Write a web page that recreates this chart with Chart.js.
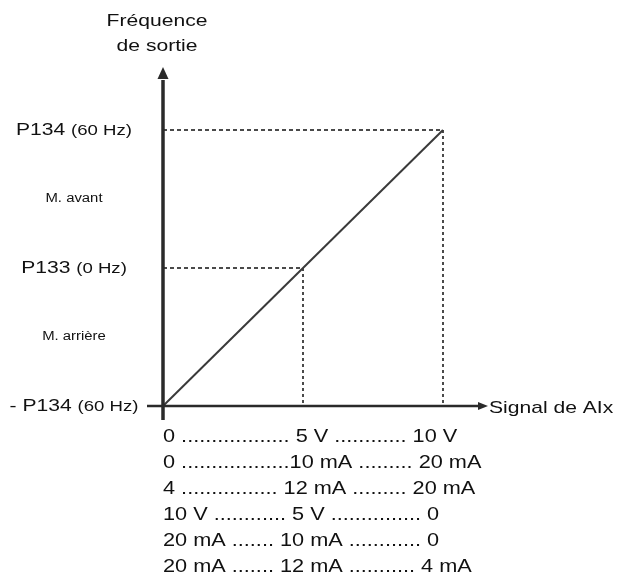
<!DOCTYPE html>
<html>
<head>
<meta charset="utf-8">
<script src="https://cdn.jsdelivr.net/npm/chart.js@4.4.1/dist/chart.umd.min.js"></script>
<style>
  html, body { margin: 0; padding: 0; background: #fff; }
  #wrap { width: 619px; height: 580px; }
</style>
</head>
<body>
<div id="wrap"><canvas id="myChart" width="619" height="580"></canvas></div>
<script>
// signal (x, 0..10) and output frequency (y, Hz, negative = reverse)
const signalPts = [0, 10];
const freqPts = [-60, 60];
const midSignal = 5;
const midFreq = 0;

const yTickValues = [60, 30, 0, -30, -60];
const yTickNames = ['P134', 'M. avant', 'P133', 'M. arrière', '- P134'];
const yTickUnits = ['(60 Hz)', '', '(0 Hz)', '', '(60 Hz)'];

const yTitle = ['Fréquence', 'de sortie'];
const xTitle = 'Signal de AIx';

const signalRows = [
    '0 .................. 5 V ............ 10 V',
    '0 ..................10 mA ......... 20 mA',
    '4 ................ 12 mA ......... 20 mA',
    '10 V ............ 5 V ............... 0',
    '20 mA ....... 10 mA ............ 0',
    '20 mA ....... 12 mA ........... 4 mA'
];

const FONT = '"Liberation Sans", Arial, sans-serif';
const SX = 1.24; // the source text is a bit wide

function wideText(c, txt, x, y, size, align) {
    c.save();
    c.font = size + 'px ' + FONT;
    var w = c.measureText(txt).width * SX;
    var x0 = x;
    if (align == 'center') x0 = x - w / 2;
    if (align == 'right') x0 = x - w;
    c.translate(x0, y);
    c.scale(SX, 1);
    c.textAlign = 'left';
    c.fillText(txt, 0, 0);
    c.restore();
    return w;
}

const axesPlugin = {
    id: 'axesPlugin',
    afterDraw(chart) {
        const c = chart.ctx;
        const xs = chart.scales.x;
        const ys = chart.scales.y;
        const x0 = xs.getPixelForValue(0);
        const y0 = ys.getPixelForValue(-60);
        const yTop = ys.getPixelForValue(60);
        const xEnd = xs.getPixelForValue(10);

        c.save();
        c.fillStyle = '#2a2a2a';
        c.strokeStyle = '#2a2a2a';

        // y axis + arrow
        c.lineWidth = 3.5;
        c.beginPath();
        c.moveTo(x0, y0 + 14);
        c.lineTo(x0, yTop - 50);
        c.stroke();
        c.beginPath();
        c.moveTo(x0, yTop - 63);
        c.lineTo(x0 - 5.5, yTop - 51);
        c.lineTo(x0 + 5.5, yTop - 51);
        c.closePath();
        c.fill();

        // x axis + arrow
        c.lineWidth = 2.5;
        c.beginPath();
        c.moveTo(x0 - 16, y0);
        c.lineTo(xEnd + 38, y0);
        c.stroke();
        c.beginPath();
        c.moveTo(xEnd + 45, y0);
        c.lineTo(xEnd + 35, y0 - 4);
        c.lineTo(xEnd + 35, y0 + 4);
        c.closePath();
        c.fill();

        // titles
        c.fillStyle = '#111';
        c.textBaseline = 'alphabetic';
        wideText(c, yTitle[0], x0 - 6, 26, 17, 'center');
        wideText(c, yTitle[1], x0 - 6, 51, 17, 'center');
        c.textBaseline = 'middle';
        wideText(c, xTitle, xEnd + 46, y0 + 2, 17, 'left');

        // y labels
        for (var i = 0; i < yTickValues.length; i++) {
            var py = ys.getPixelForValue(yTickValues[i]);
            var cx = 74;
            if (yTickUnits[i] == '') {
                wideText(c, yTickNames[i], cx, py, 12, 'center');
            } else {
                c.font = '17px ' + FONT;
                var w1 = c.measureText(yTickNames[i] + ' ').width * SX;
                c.font = '15px ' + FONT;
                var w2 = c.measureText(yTickUnits[i]).width * SX;
                var left = cx - (w1 + w2) / 2;
                wideText(c, yTickNames[i] + ' ', left, py, 17, 'left');
                wideText(c, yTickUnits[i], left + w1, py + 1, 15, 'left');
            }
        }

        // signal table under the x axis
        c.textBaseline = 'middle';
        for (var j = 0; j < signalRows.length; j++) {
            wideText(c, signalRows[j], x0, y0 + 31 + j * 26, 17.5, 'left');
        }
        c.restore();
    }
};

const ctx = document.getElementById('myChart');

const guide = (pts, dash) => ({
    data: pts,
    borderColor: '#4a4a4a',
    borderWidth: 2,
    borderDash: dash,
    pointRadius: 0,
    showLine: true,
    fill: false
});

new Chart(ctx, {
    type: 'scatter',
    data: {
        datasets: [
            {
                data: signalPts.map((s, i) => ({ x: s, y: freqPts[i] })),
                borderColor: '#3a3a3a',
                borderWidth: 2,
                pointRadius: 0,
                showLine: true,
                fill: false
            },
            guide([{ x: 0, y: 60 }, { x: 10, y: 60 }], [4, 3]),
            guide([{ x: 10, y: 60 }, { x: 10, y: -60 }], [3, 3]),
            guide([{ x: 0, y: midFreq }, { x: midSignal, y: midFreq }], [4, 3]),
            guide([{ x: midSignal, y: midFreq }, { x: midSignal, y: -60 }], [3, 3])
        ]
    },
    options: {
        responsive: false,
        animation: false,
        clip: false,
        layout: {
            padding: { left: 163, right: 176, top: 130, bottom: 174 }
        },
        scales: {
            x: { type: 'linear', min: 0, max: 10, display: false },
            y: { type: 'linear', min: -60, max: 60, display: false }
        },
        plugins: {
            legend: { display: false },
            tooltip: { enabled: false }
        }
    },
    plugins: [axesPlugin]
});
</script>
</body>
</html>
